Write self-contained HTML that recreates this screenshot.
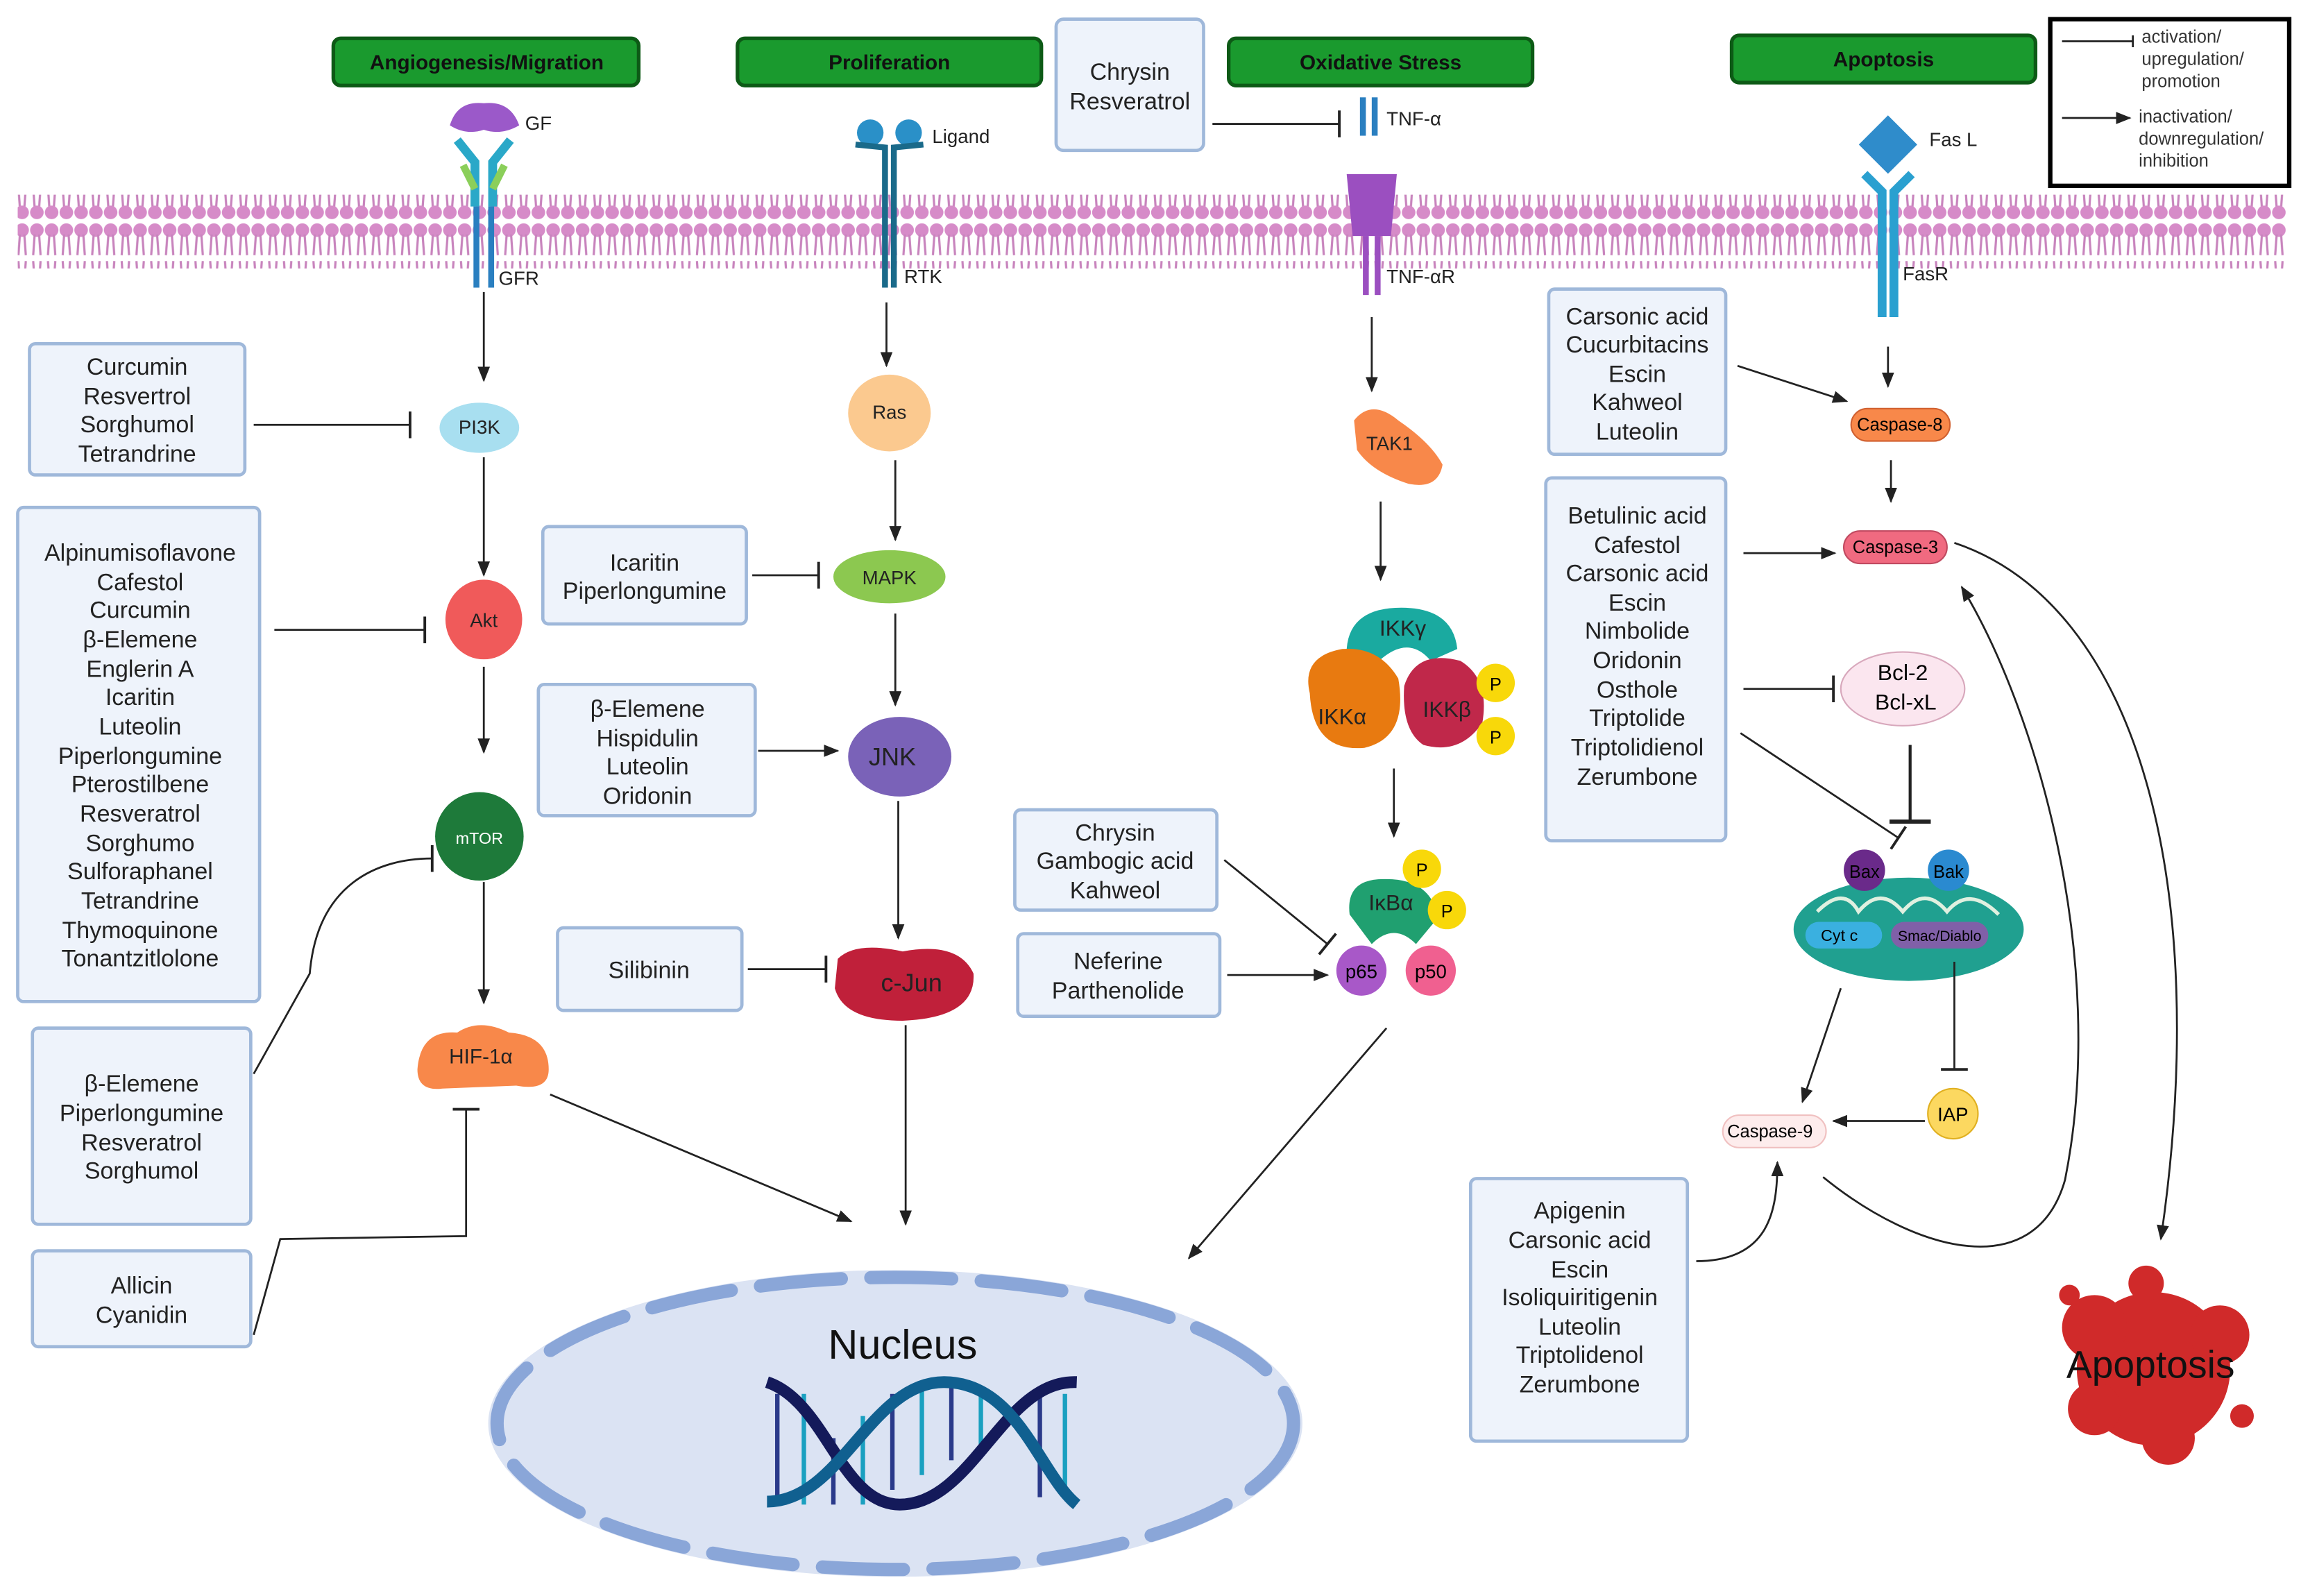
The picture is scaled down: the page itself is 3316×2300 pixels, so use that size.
<!DOCTYPE html>
<html><head><meta charset="utf-8"><style>
html,body{margin:0;padding:0;background:#fff}
svg{display:block}
text{font-family:"Liberation Sans",sans-serif}
.bx{fill:#eef3fb;stroke:#9fb8da;stroke-width:2.2}
.bt{font-size:16px;fill:#222;text-anchor:middle}
.hd{fill:#1a9a2e;stroke:#0d5a16;stroke-width:2.5}
.ht{font-size:14px;font-weight:bold;fill:#111;text-anchor:middle}
.ln{stroke:#222;stroke-width:1.3;fill:none}
.lb{font-size:13px;fill:#222}
</style></head><body>
<svg width="3316" height="2300" viewBox="0 0 1560 1082" preserveAspectRatio="none" xmlns="http://www.w3.org/2000/svg">
<defs>
<marker id="a" viewBox="0 0 10 10" refX="9" refY="5" markerWidth="8" markerHeight="8" orient="auto"><path d="M0,1 L10,5 L0,9 z" fill="#222"/></marker>
<marker id="t" viewBox="0 0 4 20" refX="2" refY="10" markerWidth="4" markerHeight="14" orient="auto"><rect x="1" y="0" width="2" height="20" fill="#222"/></marker>
<pattern id="mem" x="0" y="0" width="10" height="50" patternUnits="userSpaceOnUse">
<circle cx="5" cy="6" r="4.6" fill="#d68bc8"/>
<path d="M3.5,9 L2.5,23 M6.5,9 L7.5,23" stroke="#c884bd" stroke-width="1.5" fill="none"/>
<path d="M3.5,41 L2.5,27 M6.5,41 L7.5,27" stroke="#c884bd" stroke-width="1.5" fill="none"/>
<circle cx="5" cy="44" r="4.6" fill="#d68bc8"/>
</pattern>
</defs>
<rect width="1560" height="1082" fill="#fff"/>
<rect x="12" y="132" width="1538" height="50" fill="url(#mem)"/>

<rect class="hd" x="226" y="26" width="207" height="32" rx="5"/><text class="ht" x="330" y="47">Angiogenesis/Migration</text>
<rect class="hd" x="500" y="26" width="206" height="32" rx="5"/><text class="ht" x="603" y="47">Proliferation</text>
<rect class="hd" x="833" y="26" width="206" height="32" rx="5"/><text class="ht" x="936" y="47">Oxidative Stress</text>
<rect class="hd" x="1174" y="24" width="206" height="32" rx="5"/><text class="ht" x="1277" y="45">Apoptosis</text>
<rect class="bx" x="716" y="13" width="100" height="89" rx="5"/><text class="bt" x="766" y="54">Chrysin</text><text class="bt" x="766" y="74">Resveratrol</text>

<rect x="1390" y="13" width="162" height="113" fill="#fff" stroke="#000" stroke-width="3"/>
<line class="ln" x1="1398" y1="28" x2="1446" y2="28"/><line class="ln" x1="1446" y1="24" x2="1446" y2="32"/>
<line class="ln" x1="1398" y1="80" x2="1444" y2="80" marker-end="url(#a)"/>
<text font-size="12" fill="#333" x="1452" y="29">activation/</text>
<text font-size="12" fill="#333" x="1452" y="44">upregulation/</text>
<text font-size="12" fill="#333" x="1452" y="59">promotion</text>
<text font-size="12" fill="#333" x="1450" y="83">inactivation/</text>
<text font-size="12" fill="#333" x="1450" y="98">downregulation/</text>
<text font-size="12" fill="#333" x="1450" y="113">inhibition</text>

<path d="M305,85 Q310,68 328,70 Q346,68 352,85 Q340,92 328,88 Q316,92 305,85z" fill="#9b59c9"/>
<path d="M310,95 L322,110 L322,140 M346,95 L334,110 L334,140" stroke="#2aa8c8" stroke-width="6" fill="none"/>
<path d="M314,112 L322,128 M342,112 L334,128" stroke="#8bcf5a" stroke-width="5" fill="none"/>
<rect x="321" y="140" width="4" height="55" fill="#2a7fc0"/><rect x="331" y="140" width="4" height="55" fill="#2a7fc0"/>
<text class="lb" x="356" y="88" font-size="15">GF</text><text class="lb" x="338" y="193">GFR</text>
<circle cx="590" cy="90" r="9" fill="#2a90c8"/><circle cx="616" cy="90" r="9" fill="#2a90c8"/>
<path d="M580,98 L600,100 L600,195 M626,98 L606,100 L606,195" stroke="#1a6a8a" stroke-width="4" fill="none"/>
<text class="lb" x="632" y="97" font-size="14">Ligand</text><text class="lb" x="613" y="192">RTK</text>
<rect x="922" y="66" width="4" height="26" fill="#2a7fc0"/><rect x="930" y="66" width="4" height="26" fill="#2a7fc0"/>
<path d="M913,118 L947,118 L943,160 L917,160z" fill="#9b4fc0"/>
<rect x="924" y="160" width="4" height="40" fill="#9b4fc0"/><rect x="932" y="160" width="4" height="40" fill="#9b4fc0"/>
<text class="lb" x="940" y="85">TNF-α</text><text class="lb" x="940" y="192">TNF-αR</text>
<rect x="1266" y="84" width="28" height="28" fill="#2f8ccb" transform="rotate(45 1280 98)"/>
<path d="M1264,118 L1276,130 L1276,215 M1296,118 L1284,130 L1284,215" stroke="#2aa0d0" stroke-width="6" fill="none"/>
<text class="lb" x="1308" y="99" font-size="14">Fas L</text><text class="lb" x="1290" y="190">FasR</text>

<rect class="bx" x="20" y="233" width="146" height="89" rx="4"/>
<text class="bt" x="93" y="254">Curcumin</text><text class="bt" x="93" y="274">Resvertrol</text><text class="bt" x="93" y="293">Sorghumol</text><text class="bt" x="93" y="313">Tetrandrine</text>
<rect class="bx" x="12" y="344" width="164" height="335" rx="4"/>
<text class="bt" x="95" y="380">Alpinumisoflavone</text><text class="bt" x="95" y="400">Cafestol</text><text class="bt" x="95" y="419">Curcumin</text><text class="bt" x="95" y="439">β-Elemene</text><text class="bt" x="95" y="459">Englerin A</text><text class="bt" x="95" y="478">Icaritin</text><text class="bt" x="95" y="498">Luteolin</text><text class="bt" x="95" y="518">Piperlongumine</text><text class="bt" x="95" y="537">Pterostilbene</text><text class="bt" x="95" y="557">Resveratrol</text><text class="bt" x="95" y="577">Sorghumo</text><text class="bt" x="95" y="596">Sulforaphanel</text><text class="bt" x="95" y="616">Tetrandrine</text><text class="bt" x="95" y="636">Thymoquinone</text><text class="bt" x="95" y="655">Tonantzitlolone</text>
<rect class="bx" x="22" y="697" width="148" height="133" rx="4"/>
<text class="bt" x="96" y="740">β-Elemene</text><text class="bt" x="96" y="760">Piperlongumine</text><text class="bt" x="96" y="780">Resveratrol</text><text class="bt" x="96" y="799">Sorghumol</text>
<rect class="bx" x="22" y="848" width="148" height="65" rx="4"/>
<text class="bt" x="96" y="877">Allicin</text><text class="bt" x="96" y="897">Cyanidin</text>

<rect class="bx" x="368" y="357" width="138" height="66" rx="4"/>
<text class="bt" x="437" y="387">Icaritin</text><text class="bt" x="437" y="406">Piperlongumine</text>
<rect class="bx" x="365" y="464" width="147" height="89" rx="4"/>
<text class="bt" x="439" y="486">β-Elemene</text><text class="bt" x="439" y="506">Hispidulin</text><text class="bt" x="439" y="525">Luteolin</text><text class="bt" x="439" y="545">Oridonin</text>
<rect class="bx" x="378" y="629" width="125" height="56" rx="4"/>
<text class="bt" x="440" y="663">Silibinin</text>
<rect class="bx" x="688" y="549" width="137" height="68" rx="4"/>
<text class="bt" x="756" y="570">Chrysin</text><text class="bt" x="756" y="589">Gambogic acid</text><text class="bt" x="756" y="609">Kahweol</text>
<rect class="bx" x="690" y="633" width="137" height="56" rx="4"/>
<text class="bt" x="758" y="657">Neferine</text><text class="bt" x="758" y="677">Parthenolide</text>
<rect class="bx" x="1050" y="196" width="120" height="112" rx="4"/>
<text class="bt" x="1110" y="220">Carsonic acid</text><text class="bt" x="1110" y="239">Cucurbitacins</text><text class="bt" x="1110" y="259">Escin</text><text class="bt" x="1110" y="278">Kahweol</text><text class="bt" x="1110" y="298">Luteolin</text>
<rect class="bx" x="1048" y="324" width="122" height="246" rx="4"/>
<text class="bt" x="1110" y="355">Betulinic acid</text><text class="bt" x="1110" y="375">Cafestol</text><text class="bt" x="1110" y="394">Carsonic acid</text><text class="bt" x="1110" y="414">Escin</text><text class="bt" x="1110" y="433">Nimbolide</text><text class="bt" x="1110" y="453">Oridonin</text><text class="bt" x="1110" y="473">Ostholе</text><text class="bt" x="1110" y="492">Triptolide</text><text class="bt" x="1110" y="512">Triptolidienol</text><text class="bt" x="1110" y="532">Zerumbone</text>
<rect class="bx" x="997" y="799" width="147" height="178" rx="4"/>
<text class="bt" x="1071" y="826">Apigenin</text><text class="bt" x="1071" y="846">Carsonic acid</text><text class="bt" x="1071" y="866">Escin</text><text class="bt" x="1071" y="885">Isoliquiritigenin</text><text class="bt" x="1071" y="905">Luteolin</text><text class="bt" x="1071" y="924">Triptolidenol</text><text class="bt" x="1071" y="944">Zerumbone</text>

<ellipse cx="325" cy="290" rx="27" ry="17" fill="#a8dff0"/><text class="lb" x="325" y="294" font-size="12" text-anchor="middle">PI3K</text>
<ellipse cx="328" cy="420" rx="26" ry="27" fill="#f05a5a"/><text class="lb" x="328" y="425" text-anchor="middle">Akt</text>
<ellipse cx="325" cy="567" rx="30" ry="30" fill="#1e7a3a"/><text x="325" y="572" font-size="11" fill="#fff" text-anchor="middle">mTOR</text>
<path d="M283,725 Q285,698 310,700 Q325,690 345,700 Q372,702 372,725 Q372,740 350,736 L300,738 Q283,740 283,725z" fill="#f8884a"/><text x="326" y="721" font-size="14" fill="#222" text-anchor="middle">HIF-1α</text>
<ellipse cx="603" cy="280" rx="28" ry="26" fill="#fbc98f"/><text class="lb" x="603" y="284" font-size="15" text-anchor="middle">Ras</text>
<ellipse cx="603" cy="391" rx="38" ry="18" fill="#8cc850"/><text class="lb" x="603" y="396" font-size="15" text-anchor="middle">MAPK</text>
<ellipse cx="610" cy="513" rx="35" ry="27" fill="#7a62b8"/><text x="605" y="519" font-size="17" fill="#222" text-anchor="middle">JNK</text>
<path d="M568,650 Q580,638 612,645 Q650,638 660,660 Q662,690 612,692 Q572,692 566,670z" fill="#c0203a"/><text x="618" y="672" font-size="17" fill="#222" text-anchor="middle">c-Jun</text>
<path d="M918,285 Q930,270 948,285 Q970,300 978,315 Q975,332 955,328 Q930,320 920,305z" fill="#f8884a"/><text x="942" y="305" font-size="13" fill="#222" text-anchor="middle">TAK1</text>
<path d="M913,440 Q915,412 950,412 Q985,412 988,440 L970,448 Q955,430 935,448z" fill="#1aaaa0"/><text x="951" y="431" font-size="15" fill="#222" text-anchor="middle">IKKγ</text>
<path d="M888,470 Q882,445 910,440 Q935,438 948,460 Q955,500 925,507 Q890,510 888,470z" fill="#e87a10"/><text x="910" y="491" font-size="15" fill="#222" text-anchor="middle">IKKα</text>
<path d="M952,465 Q960,440 990,448 Q1010,460 1005,490 Q990,512 965,505 Q950,495 952,465z" fill="#c0284a"/><text x="981" y="486" font-size="15" fill="#222" text-anchor="middle">IKKβ</text>
<circle cx="1014" cy="463" r="13" fill="#f8d80a"/><text x="1014" y="468" font-size="12" text-anchor="middle">P</text>
<circle cx="1014" cy="499" r="13" fill="#f8d80a"/><text x="1014" y="504" font-size="12" text-anchor="middle">P</text>
<path d="M915,620 Q912,595 940,596 Q970,596 975,622 L960,640 Q945,625 930,640z" fill="#20a070"/><text x="943" y="617" font-size="15" fill="#222" text-anchor="middle">IκBα</text>
<circle cx="964" cy="589" r="13" fill="#f8d80a"/><text x="964" y="594" font-size="12" text-anchor="middle">P</text>
<circle cx="981" cy="617" r="13" fill="#f8d80a"/><text x="981" y="622" font-size="12" text-anchor="middle">P</text>
<circle cx="923" cy="658" r="17" fill="#a858c8"/><text x="923" y="663" font-size="13" text-anchor="middle">p65</text>
<circle cx="970" cy="658" r="17" fill="#f06090"/><text x="970" y="663" font-size="13" text-anchor="middle">p50</text>
<rect x="1255" y="277" width="67" height="22" rx="11" fill="#f8884a" stroke="#d06030"/><text x="1288" y="292" font-size="12" text-anchor="middle">Caspase-8</text>
<rect x="1250" y="360" width="70" height="22" rx="11" fill="#f06a80" stroke="#c04a60"/><text x="1285" y="375" font-size="12" text-anchor="middle">Caspase-3</text>
<ellipse cx="1290" cy="467" rx="42" ry="25" fill="#fbe6ef" stroke="#d8a8bc"/><text x="1290" y="461" font-size="15" text-anchor="middle">Bcl-2</text><text x="1292" y="481" font-size="15" text-anchor="middle">Bcl-xL</text>
<ellipse cx="1294" cy="630" rx="78" ry="35" fill="#20a090"/>
<path d="M1232,618 Q1250,600 1260,618 Q1275,600 1290,618 Q1305,600 1320,618 Q1335,600 1355,620" stroke="#e0f0e0" stroke-width="2.5" fill="none"/>
<rect x="1224" y="625" width="52" height="18" rx="9" fill="#3ab0e0"/><text x="1247" y="638" font-size="11" text-anchor="middle">Cyt c</text>
<rect x="1282" y="625" width="66" height="18" rx="9" fill="#8060a8"/><text x="1315" y="638" font-size="10" text-anchor="middle">Smac/Diablo</text>
<circle cx="1264" cy="590" r="14" fill="#6a2a8a"/><text x="1264" y="595" font-size="12" text-anchor="middle">Bax</text>
<circle cx="1321" cy="590" r="14" fill="#2a8ad0"/><text x="1321" y="595" font-size="12" text-anchor="middle">Bak</text>
<circle cx="1324" cy="755" r="17" fill="#fcd860" stroke="#e0b020"/><text x="1324" y="760" font-size="13" text-anchor="middle">IAP</text>
<rect x="1168" y="756" width="70" height="22" rx="11" fill="#fdecec" stroke="#f0c0c0"/><text x="1200" y="771" font-size="12" text-anchor="middle">Caspase-9</text>
<g fill="#d02a2a">
<circle cx="1460" cy="928" r="52"/><circle cx="1420" cy="900" r="22"/><circle cx="1505" cy="905" r="20"/><circle cx="1470" cy="975" r="18"/><circle cx="1420" cy="955" r="18"/><circle cx="1403" cy="878" r="7"/><circle cx="1520" cy="960" r="8"/><circle cx="1455" cy="870" r="12"/>
</g>
<text x="1458" y="934" font-size="26" fill="#111" text-anchor="middle">Apoptosis</text>
<ellipse cx="607" cy="965" rx="276" ry="104" fill="#dbe3f3"/>
<ellipse cx="607" cy="965" rx="270" ry="99" fill="none" stroke="#8aa6d8" stroke-width="9" stroke-linecap="round" stroke-dasharray="55 20"/>
<text x="612" y="921" font-size="28" fill="#111" text-anchor="middle">Nucleus</text>
<g stroke-width="3"><line x1="527" y1="945" x2="527" y2="1020" stroke="#2a3a8a"/><line x1="545" y1="945" x2="545" y2="1020" stroke="#1aa0c0"/><line x1="565" y1="975" x2="565" y2="1020" stroke="#2a3a8a"/><line x1="585" y1="960" x2="585" y2="1020" stroke="#1aa0c0"/><line x1="605" y1="945" x2="605" y2="1010" stroke="#2a3a8a"/><line x1="625" y1="940" x2="625" y2="1000" stroke="#1aa0c0"/><line x1="645" y1="940" x2="645" y2="990" stroke="#2a3a8a"/><line x1="665" y1="945" x2="665" y2="980" stroke="#1aa0c0"/><line x1="705" y1="945" x2="705" y2="1015" stroke="#2a3a8a"/><line x1="722" y1="945" x2="722" y2="1015" stroke="#1aa0c0"/></g>
<path d="M520,937 C560,950 570,1020 610,1020 C660,1020 680,935 730,937" stroke="#141a5a" stroke-width="8" fill="none"/>
<path d="M520,1018 C570,1018 590,937 640,937 C690,937 705,1000 730,1020" stroke="#106090" stroke-width="8" fill="none"/>

<g class="ln">
<line x1="328" y1="198" x2="328" y2="258" marker-end="url(#a)"/>
<line x1="172" y1="288" x2="278" y2="288" marker-end="url(#t)"/>
<line x1="328" y1="310" x2="328" y2="390" marker-end="url(#a)"/>
<line x1="186" y1="427" x2="288" y2="427" marker-end="url(#t)"/>
<line x1="328" y1="452" x2="328" y2="510" marker-end="url(#a)"/>
<line x1="328" y1="598" x2="328" y2="680" marker-end="url(#a)"/>
<path d="M172,728 L210,660 C215,600 255,582 293,582" marker-end="url(#t)"/>
<path d="M172,905 L190,840 L316,838 L316,752" marker-end="url(#t)"/>
<line x1="373" y1="742" x2="577" y2="828" marker-end="url(#a)"/>
<line x1="601" y1="205" x2="601" y2="248" marker-end="url(#a)"/>
<line x1="607" y1="312" x2="607" y2="366" marker-end="url(#a)"/>
<line x1="510" y1="390" x2="555" y2="390" marker-end="url(#t)"/>
<line x1="607" y1="416" x2="607" y2="478" marker-end="url(#a)"/>
<line x1="514" y1="509" x2="568" y2="509" marker-end="url(#a)"/>
<line x1="609" y1="543" x2="609" y2="636" marker-end="url(#a)"/>
<line x1="507" y1="657" x2="560" y2="657" marker-end="url(#t)"/>
<line x1="614" y1="695" x2="614" y2="830" marker-end="url(#a)"/>
<line x1="822" y1="84" x2="908" y2="84" marker-end="url(#t)"/>
<line x1="930" y1="215" x2="930" y2="265" marker-end="url(#a)"/>
<line x1="936" y1="340" x2="936" y2="393" marker-end="url(#a)"/>
<line x1="945" y1="521" x2="945" y2="567" marker-end="url(#a)"/>
<line x1="830" y1="583" x2="900" y2="640" marker-end="url(#t)"/>
<line x1="832" y1="661" x2="900" y2="661" marker-end="url(#a)"/>
<line x1="940" y1="697" x2="806" y2="853" marker-end="url(#a)"/>
<line x1="1280" y1="235" x2="1280" y2="262" marker-end="url(#a)"/>
<line x1="1178" y1="248" x2="1252" y2="272" marker-end="url(#a)"/>
<line x1="1282" y1="312" x2="1282" y2="340" marker-end="url(#a)"/>
<line x1="1182" y1="375" x2="1244" y2="375" marker-end="url(#a)"/>
<line x1="1182" y1="467" x2="1243" y2="467" marker-end="url(#t)"/>
<line x1="1180" y1="497" x2="1287" y2="568" marker-end="url(#t)"/>
<line x1="1295" y1="505" x2="1295" y2="557" marker-end="url(#t)" stroke-width="2"/>
<line x1="1248" y1="670" x2="1222" y2="747" marker-end="url(#a)"/>
<line x1="1325" y1="652" x2="1325" y2="725" marker-end="url(#t)"/>
<line x1="1305" y1="760" x2="1243" y2="760" marker-end="url(#a)"/>
<path d="M1150,855 C1200,855 1205,820 1205,788" marker-end="url(#a)"/>
<path d="M1236,798 C1300,850 1380,870 1400,800 C1430,650 1380,480 1330,398" marker-end="url(#a)"/>
<path d="M1325,368 C1450,410 1500,600 1465,840" marker-end="url(#a)"/>
</g>
</svg>
</body></html>
